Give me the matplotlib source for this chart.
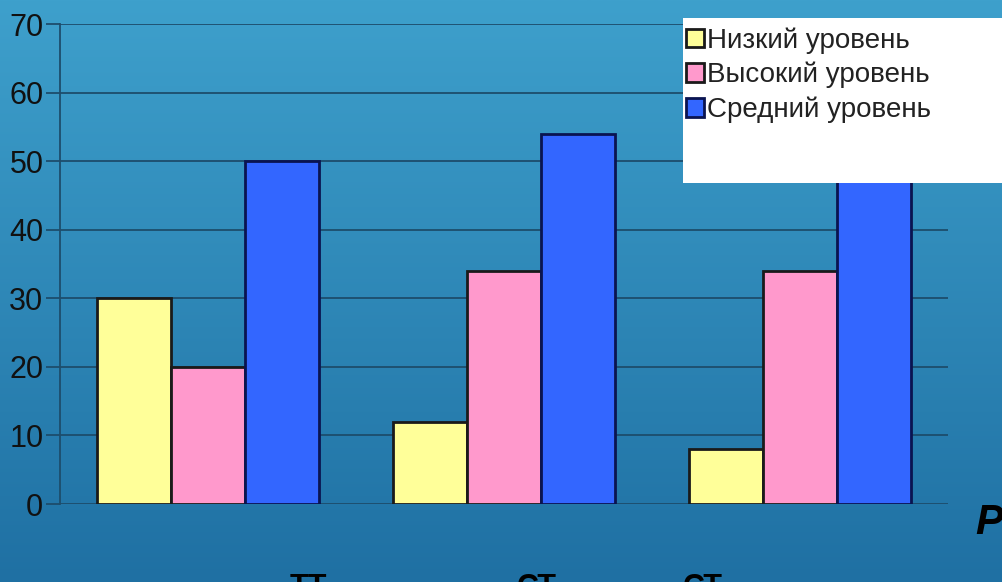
import numpy as np
import matplotlib.pyplot as plt
from matplotlib.patches import Rectangle

# data
groups = ["1", "2", "3"]
series_names = ["Низкий уровень", "Высокий уровень", "Средний уровень"]
low = [30, 12, 8]
high = [20, 34, 34]
mid = [50, 54, 60]
colors = ["#ffff99", "#ff99cc", "#3366ff"]
edge_colors = ["#1a1a1a", "#1a1a1a", "#0a1450"]
yticks = [0, 10, 20, 30, 40, 50, 60, 70]

plt.rcParams['font.family'] = ['Liberation Sans', 'DejaVu Sans']

fig = plt.figure(figsize=(10.03, 5.82), dpi=100)

# gradient backdrop
bg = fig.add_axes([0, 0, 1, 1], zorder=-10)
grad = np.linspace(0, 1, 256).reshape(-1, 1)
top = np.array([0x3e, 0xa0, 0xcc]) / 255
bot = np.array([0x1f, 0x70, 0xa3]) / 255
img = top + (bot - top) * grad[:, :, None]
bg.imshow(img, aspect="auto", extent=[0, 1, 0, 1])
bg.axis("off")

ax = fig.add_axes([60 / 1003, 1 - 504 / 582, 888 / 1003, 480 / 582])
ax.set_facecolor("none")

x = np.arange(len(groups))
w = 0.25
for i, (vals, c, ec) in enumerate(zip([low, high, mid], colors, edge_colors)):
    ax.bar(x + (i - 1) * w, vals, width=w, color=c, edgecolor=ec,
           linewidth=2, zorder=3, label=series_names[i])

ax.set_xlim(-0.5, 2.5)
ax.set_ylim(0, 70)
ax.set_yticks(yticks)
ax.set_xticks([])
ax.grid(axis="y", color="#1d4d6c", linewidth=1.3, zorder=0)
for side in ["top", "right", "bottom"]:
    ax.spines[side].set_visible(False)
ax.spines["left"].set_color("#1d4d6c")
ax.spines["left"].set_linewidth(1.3)
ax.tick_params(axis="y", length=10, width=1.3, color="#1d4d6c",
               labelsize=22, labelcolor="#111111", pad=2)

# white legend panel
fig.patches.append(Rectangle((683 / 1003, 1 - 183 / 582), 330 / 1003, 165 / 582,
                             transform=fig.transFigure, facecolor="white",
                             edgecolor="none", zorder=5))
leg = fig.legend(loc="upper left", bbox_to_anchor=(668 / 1003, 1 - 9 / 582),
                 frameon=False, fontsize=20, handlelength=0.65, handleheight=0.65,
                 handletextpad=0.12, labelspacing=0.3, borderpad=0.15)
leg.set_zorder(6)
for t in leg.get_texts():
    t.set_color("#222222")

# slide text cut off at the edges
fig.text(975 / 1003, 1 - 534 / 582, "P", fontsize=30, fontweight="bold",
         fontstyle="italic", color="black", ha="left", va="baseline")
for xp, s in [(290, "ТТ"), (517, "СТ"), (683, "СТ")]:
    fig.text(xp / 1003, 1 - 573 / 582, s, fontsize=22, fontweight="bold",
             color="black", ha="left", va="top")

fig.savefig("out.png", dpi=100)
